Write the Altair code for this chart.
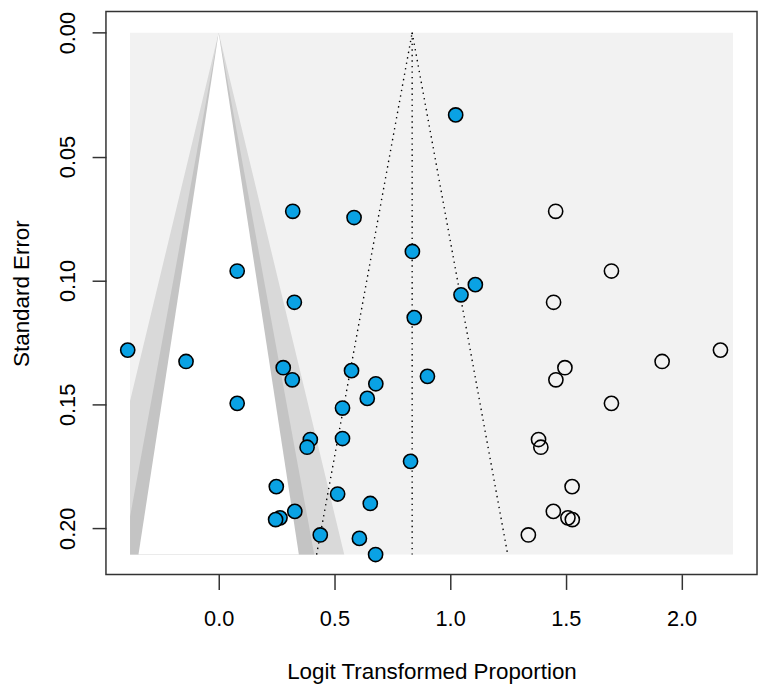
import altair as alt
import pandas as pd

# observed studies (logit proportion, standard error)
obs_x = [1.024, 0.320, 0.585, 0.837, 0.080, 1.109, 1.047, 0.327, 0.845, -0.393,
         -0.141, 0.279, 0.574, 0.902, 0.318, 0.679, 0.642, 0.080, 0.535, 0.535,
         0.396, 0.382, 0.829, 0.249, 0.514, 0.655, 0.329, 0.265, 0.246, 0.439,
         0.608, 0.678]
obs_se = [0.0332, 0.0721, 0.0746, 0.0883, 0.0962, 0.1017, 0.1058, 0.1088, 0.1150, 0.1281,
          0.1327, 0.1352, 0.1364, 0.1387, 0.1401, 0.1417, 0.1476, 0.1496, 0.1515, 0.1638,
          0.1642, 0.1673, 0.1730, 0.1832, 0.1862, 0.1900, 0.1932, 0.1958, 0.1965, 0.2027,
          0.2041, 0.2106]

# filled (imputed) studies
fill_x = [1.456, 1.697, 1.447, 2.168, 1.916, 1.697, 1.496, 1.457, 1.382, 1.392,
          1.527, 1.446, 1.509, 1.528, 1.338]
fill_se = [0.0721, 0.0962, 0.1088, 0.1281, 0.1327, 0.1496, 0.1352, 0.1401, 0.1642, 0.1673,
           0.1832, 0.1932, 0.1958, 0.1965, 0.2027]

est = 0.836          # adjusted pooled estimate
se_max = 0.2106
x_lo, x_hi = -0.383, 2.222
z_levels = [2.576, 1.960, 1.645]
z_colors = ["#D9D9D9", "#C4C4C4", "#FFFFFF"]
x_ticks = [0.0, 0.5, 1.0, 1.5, 2.0]
y_ticks = [0.00, 0.05, 0.10, 0.15, 0.20]

FONT = "Liberation Sans"
W, H = 658, 569

xscale = alt.Scale(domain=[-0.487, 2.326], nice=False, zero=False)
yscale = alt.Scale(domain=[-0.0085, 0.2187], nice=False, zero=False, reverse=True)

xaxis = alt.Axis(values=x_ticks, format=".1f", title="Logit Transformed Proportion",
                 grid=False, domain=False, tickSize=15, tickColor="#333333", tickWidth=1.5,
                 labelFont=FONT, labelFontSize=22, labelColor="black",
                 labelBaseline="alphabetic", labelPadding=36,
                 titleFont=FONT, titleFontSize=22.6, titleFontWeight="normal", titleColor="black",
                 titleBaseline="alphabetic", titleY=105, titleX=W / 2, titleAlign="center")
yaxis = alt.Axis(values=y_ticks, format=".2f", title="Standard Error",
                 grid=False, domain=False, tickSize=14, tickColor="#333333", tickWidth=1.5,
                 labelFont=FONT, labelFontSize=22, labelColor="black",
                 labelAngle=270, labelAlign="center", labelBaseline="alphabetic",
                 labelPadding=18,
                 titleFont=FONT, titleFontSize=22.6, titleFontWeight="normal", titleColor="black",
                 titleAngle=270, titleAlign="center", titleBaseline="alphabetic",
                 titleX=-78, titleY=H / 2)


def X(field):
    return alt.X(field, type="quantitative", scale=xscale, axis=xaxis)


def Y(field):
    return alt.Y(field, type="quantitative", scale=yscale, axis=yaxis)


# background region
bg_df = pd.DataFrame({"x0": [x_lo], "x1": [x_hi], "y0": [0.0], "y1": [se_max]})
bg = alt.Chart(bg_df).mark_rect(color="#F2F2F2").encode(
    x=X("x0"), x2="x1", y=Y("y0"), y2="y1")

layers = [bg]
for z, col in zip(z_levels, z_colors):
    ses = [0.0]
    clip_se = -x_lo / z
    if clip_se < se_max:
        ses.append(clip_se)
    ses.append(se_max)
    rows = [{"se": s, "lo": max(-z * s, x_lo), "hi": min(z * s, x_hi)} for s in ses]
    band = alt.Chart(pd.DataFrame(rows)).mark_area(
        orient="horizontal", color=col, opacity=1, interpolate="linear").encode(
        y=Y("se"), x=X("lo"), x2="hi")
    layers.append(band)

# dotted funnel around pooled estimate
fl_rows = []
for side, sgn in [("l", -1), ("r", 1)]:
    for s in [0.0, se_max]:
        fl_rows.append({"side": side, "se": s, "x": est + sgn * 1.96 * s})
funnel = alt.Chart(pd.DataFrame(fl_rows)).mark_line(
    color="black", strokeWidth=1.4, strokeDash=[1.4, 4.2]).encode(
    x=X("x"), y=Y("se"), detail="side:N")
center = alt.Chart(pd.DataFrame({"x": [est], "s0": [0.0], "s1": [se_max]})).mark_rule(
    color="black", strokeWidth=1.4, strokeDash=[1.4, 4.2]).encode(
    x=X("x"), y=Y("s0"), y2="s1")
layers += [funnel, center]

fill_pts = alt.Chart(pd.DataFrame({"x": fill_x, "se": fill_se})).mark_point(
    shape="circle", filled=False, stroke="black", strokeWidth=1.6, size=205, opacity=1).encode(
    x=X("x"), y=Y("se"))
obs_pts = alt.Chart(pd.DataFrame({"x": obs_x, "se": obs_se})).mark_point(
    shape="circle", filled=True, fill="#0AA2E4", stroke="black", strokeWidth=1.6,
    size=205, opacity=1, fillOpacity=1, strokeOpacity=1).encode(
    x=X("x"), y=Y("se"))
layers += [fill_pts, obs_pts]

chart = alt.layer(*layers).properties(
    width=W, height=H, autosize="none",
    padding={"left": 99, "top": 0, "right": 2, "bottom": 112},
    background="white",
).configure_view(stroke="#333333", strokeWidth=1.5)

chart.save("out.html", embed_options={"renderer": "svg", "actions": False})
